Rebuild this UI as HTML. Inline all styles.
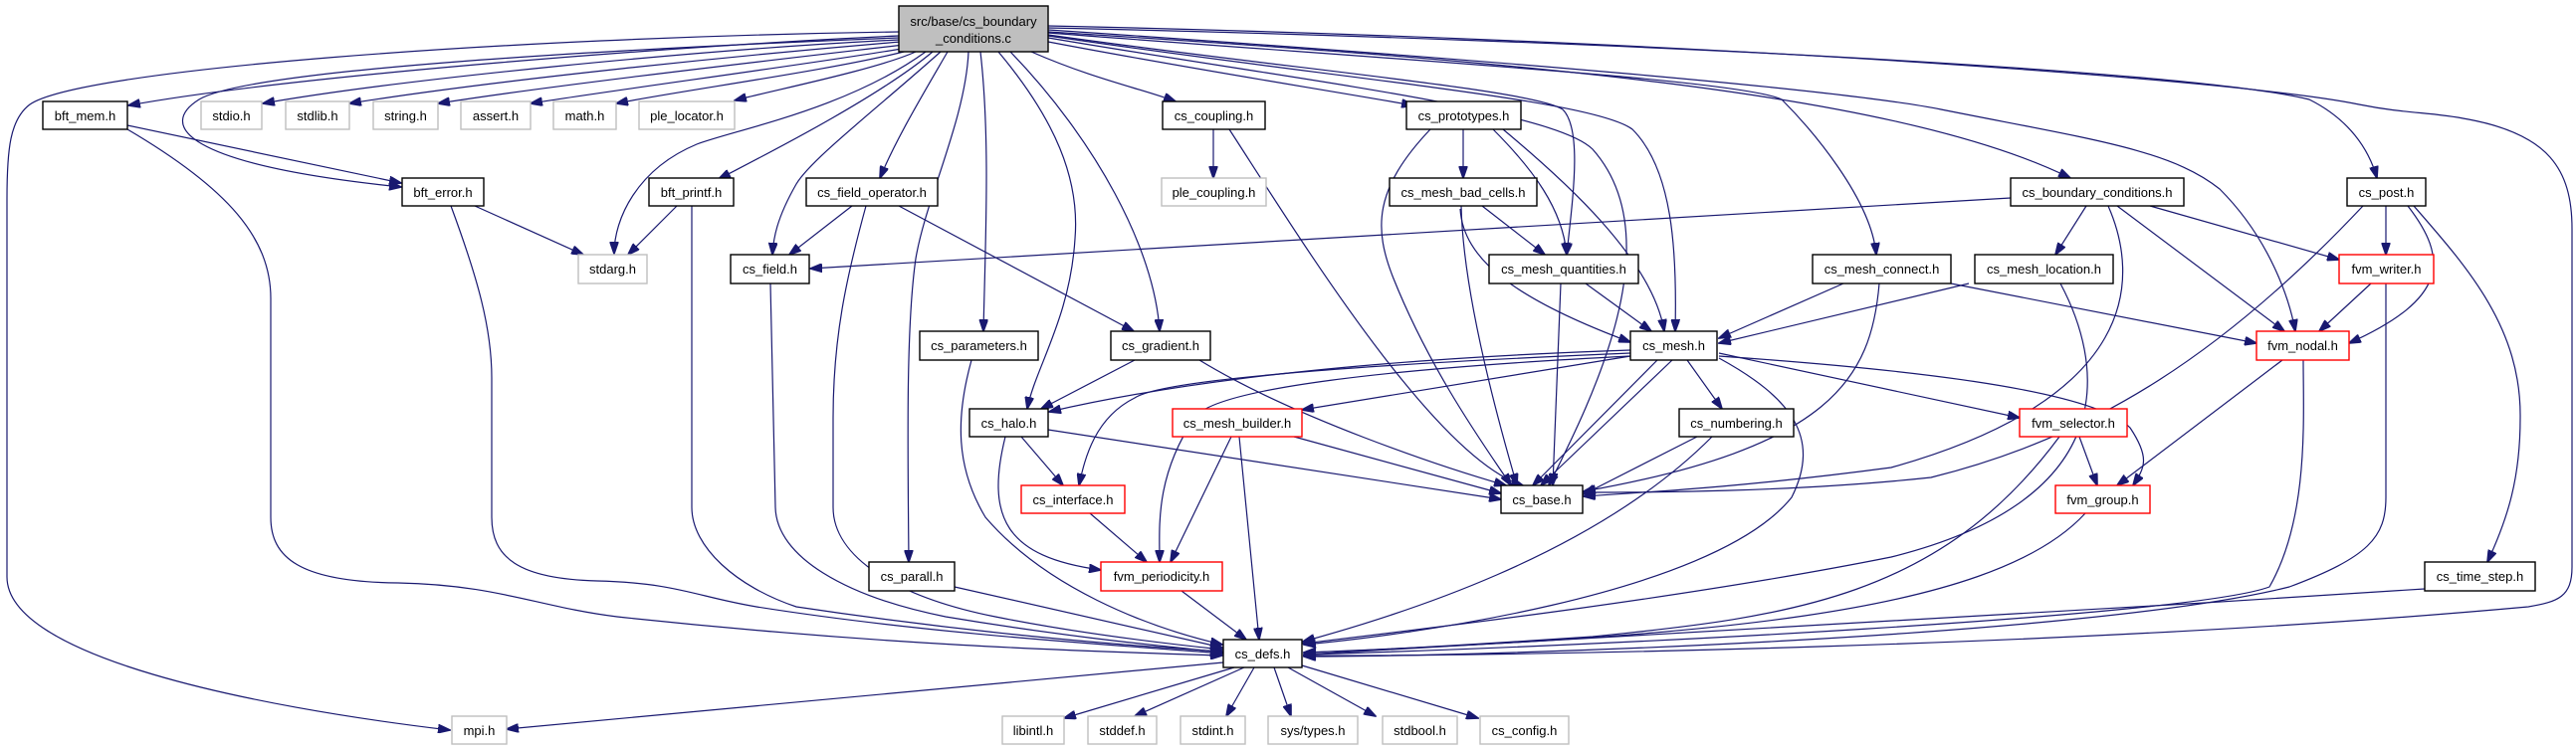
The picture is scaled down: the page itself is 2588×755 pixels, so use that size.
<!DOCTYPE html>
<html><head><meta charset="utf-8"><style>
html,body{margin:0;padding:0;background:#fff;}
svg{display:block;}
text{font-family:"Liberation Sans",Arial,sans-serif;font-size:13px;fill:#000;text-anchor:middle;}
.e{fill:none;stroke:#191970;stroke-width:1.2;marker-end:url(#a);}
.n{fill:#fff;stroke:#000;stroke-width:1.4;}
.g{fill:#fff;stroke:#bfbfbf;stroke-width:1.4;}
.r{fill:#fff;stroke:#ff0000;stroke-width:1.4;}
.rt{fill:#bfbfbf;stroke:#000;stroke-width:1.4;}
</style></head><body>
<svg width="2588" height="755" viewBox="0 0 2588 755" xmlns="http://www.w3.org/2000/svg">
<defs><marker id="a" markerWidth="13" markerHeight="9" refX="12" refY="4.5" orient="auto" markerUnits="userSpaceOnUse"><path d="M0,0 L13,4.5 L0,9 z" fill="#191970" stroke="#191970"/></marker></defs>
<g>
<path class="e" d="M903,32 C500,38 80,70 30,105 C10,120 7,150 7,200 L7,580 C7,660 250,710 452,734"/>
<path class="e" d="M903,36 C700,45 300,75 129,106"/>
<path class="e" d="M903,38 C600,50 250,70 200,100 C160,125 180,165 403,188"/>
<path class="e" d="M903,40 C700,50 400,80 264,104"/>
<path class="e" d="M905,42 C750,55 500,80 351,104"/>
<path class="e" d="M908,45 C780,60 560,85 440,104"/>
<path class="e" d="M912,48 C810,65 620,90 533,104"/>
<path class="e" d="M916,50 C840,70 690,90 619,104"/>
<path class="e" d="M920,52 C880,70 780,90 738,101"/>
<path class="e" d="M930,52 C850,110 740,130 700,145 C640,170 617,220 617,255"/>
<path class="e" d="M937,52 C880,100 760,160 722,180"/>
<path class="e" d="M945,52 C880,110 815,160 800,185 C780,220 777,240 776,256"/>
<path class="e" d="M952,52 C930,90 900,140 884,179"/>
<path class="e" d="M973,52 C970,120 930,200 920,260 C910,330 912,450 913,565"/>
<path class="e" d="M985,52 C995,140 990,240 988,333"/>
<path class="e" d="M1003,52 C1060,120 1085,180 1080,240 C1075,320 1040,370 1032,411"/>
<path class="e" d="M1015,52 C1100,140 1160,250 1165,333"/>
<path class="e" d="M1036,52 C1100,80 1150,90 1181,102"/>
<path class="e" d="M1053,42 C1200,70 1330,90 1420,106"/>
<path class="e" d="M1053,35 C1300,70 1540,90 1570,110 C1590,130 1580,200 1574,256"/>
<path class="e" d="M1053,36 C1350,80 1600,100 1640,130 C1680,170 1685,250 1683,333"/>
<path class="e" d="M1053,38 C1300,80 1560,110 1600,150 C1680,240 1600,400 1556,488"/>
<path class="e" d="M1053,33 C1400,60 1750,80 1790,100 C1820,130 1880,200 1885,256"/>
<path class="e" d="M1053,32 C1500,60 1900,90 2080,179"/>
<path class="e" d="M1053,30 C1500,60 1850,90 1950,110 C2100,140 2180,150 2230,190 C2280,240 2300,300 2306,333"/>
<path class="e" d="M1053,28 C1600,40 2200,70 2320,100 C2360,120 2380,150 2388,179"/>
<path class="e" d="M1053,26 C1700,40 2250,80 2370,105 C2420,115 2440,112 2480,120 C2560,135 2584,170 2584,230 L2584,570 C2584,600 2570,605 2540,610 C2100,650 1500,660 1310,659"/>
<path class="e" d="M128,126 L403,184"/>
<path class="e" d="M128,130 C230,190 272,240 272,300 L272,520 C272,560 300,585 400,586 C500,588 540,610 620,620 C900,650 1100,655 1228,659"/>
<path class="e" d="M477,207 L586,256"/>
<path class="e" d="M453,207 C480,280 494,330 494,380 L494,520 C494,560 520,582 600,584 C680,586 700,600 760,610 C950,640 1150,650 1228,657"/>
<path class="e" d="M680,207 L631,256"/>
<path class="e" d="M695,207 L695,510 C695,550 740,590 800,610 C1000,640 1150,650 1228,655"/>
<path class="e" d="M856,207 L793,256"/>
<path class="e" d="M870,207 C850,280 837,340 837,420 L837,510 C837,560 900,600 1000,620 C1100,640 1200,650 1228,653"/>
<path class="e" d="M903,207 L1139,333"/>
<path class="e" d="M774,285 L779,510 C780,560 850,600 950,620 C1100,645 1200,652 1228,656"/>
<path class="e" d="M2020,199 L814,270"/>
<path class="e" d="M1219,130 L1219,179"/>
<path class="e" d="M1235,130 C1300,230 1440,460 1530,488"/>
<path class="e" d="M1470,130 L1470,179"/>
<path class="e" d="M1437,130 C1380,190 1380,230 1400,280 C1440,380 1500,460 1518,488"/>
<path class="e" d="M1500,130 C1540,170 1570,210 1574,256"/>
<path class="e" d="M1510,130 C1570,180 1660,260 1672,333"/>
<path class="e" d="M1489,207 L1552,256"/>
<path class="e" d="M1468,207 C1470,300 1510,440 1524,488"/>
<path class="e" d="M1467,210 C1470,260 1520,300 1638,344"/>
<path class="e" d="M1593,285 L1659,333"/>
<path class="e" d="M1568,285 L1560,488"/>
<path class="e" d="M1140,362 L1046,411"/>
<path class="e" d="M1205,362 C1300,420 1450,470 1513,488"/>
<path class="e" d="M976,362 C960,420 960,470 990,520 C1050,590 1150,630 1228,648"/>
<path class="e" d="M1638,352 C1400,360 1200,380 1054,414"/>
<path class="e" d="M1638,355 C1400,365 1170,380 1140,400 C1100,420 1090,460 1084,488"/>
<path class="e" d="M1638,358 C1400,370 1220,390 1200,420 C1160,480 1165,530 1165,565"/>
<path class="e" d="M1638,358 L1308,412"/>
<path class="e" d="M1665,362 L1540,488"/>
<path class="e" d="M1680,362 L1548,488"/>
<path class="e" d="M1695,362 L1730,411"/>
<path class="e" d="M1727,355 L2029,420"/>
<path class="e" d="M1727,358 C1900,370 2100,390 2140,430 C2160,460 2155,470 2143,488"/>
<path class="e" d="M1727,360 C1800,400 1830,440 1800,500 C1720,600 1400,640 1310,648"/>
<path class="e" d="M1026,439 L1068,488"/>
<path class="e" d="M1053,432 L1508,502"/>
<path class="e" d="M1010,439 C990,520 1010,560 1106,573"/>
<path class="e" d="M1237,439 L1176,565"/>
<path class="e" d="M1300,439 L1508,496"/>
<path class="e" d="M1245,439 L1265,643"/>
<path class="e" d="M1095,516 L1152,565"/>
<path class="e" d="M1187,594 L1252,643"/>
<path class="e" d="M959,590 L1228,651"/>
<path class="e" d="M1705,439 L1591,497"/>
<path class="e" d="M1720,439 C1600,560 1400,620 1309,645"/>
<path class="e" d="M1852,285 L1727,340"/>
<path class="e" d="M1888,285 C1880,380 1840,450 1591,494"/>
<path class="e" d="M1960,285 L2267,345"/>
<path class="e" d="M1978,285 L1727,345"/>
<path class="e" d="M2070,285 C2110,360 2140,500 1900,560 C1700,600 1450,630 1309,647"/>
<path class="e" d="M2096,207 L2065,256"/>
<path class="e" d="M2160,207 L2350,261"/>
<path class="e" d="M2127,207 L2295,333"/>
<path class="e" d="M2118,207 C2150,280 2150,400 1900,470 C1750,490 1650,495 1591,499"/>
<path class="e" d="M2397,207 L2397,256"/>
<path class="e" d="M2419,207 C2460,260 2460,300 2360,345"/>
<path class="e" d="M2374,207 C2230,360 2100,440 1940,480 C1800,495 1650,495 1591,495"/>
<path class="e" d="M2425,207 C2480,270 2533,330 2532,420 C2532,480 2520,520 2499,565"/>
<path class="e" d="M2382,285 L2330,333"/>
<path class="e" d="M2397,285 L2397,500 C2397,540 2380,560 2300,590 C2100,640 1500,660 1310,660"/>
<path class="e" d="M2293,362 L2127,488"/>
<path class="e" d="M2314,362 C2314,420 2320,520 2280,590 C2200,620 1600,650 1310,658"/>
<path class="e" d="M2089,439 L2107,488"/>
<path class="e" d="M2069,439 C1950,600 1800,620 1600,640 C1450,650 1350,655 1310,656"/>
<path class="e" d="M2095,516 C2000,620 1700,640 1310,656"/>
<path class="e" d="M2436,592 C2000,620 1500,650 1310,658"/>
<path class="e" d="M1229,666 L509,733"/>
<path class="e" d="M1240,671 L1069,722"/>
<path class="e" d="M1250,671 L1140,720"/>
<path class="e" d="M1260,671 L1232,720"/>
<path class="e" d="M1280,671 L1297,720"/>
<path class="e" d="M1294,671 L1382,720"/>
<path class="e" d="M1308,669 L1485,722"/>
</g>
<g>
<rect class="rt" x="903" y="6" width="150" height="46"/><text x="978" y="26">src/base/cs_boundary</text><text x="978" y="43">_conditions.c</text>
<rect class="n" x="43" y="102" width="85" height="28"/><text x="85.5" y="121">bft_mem.h</text>
<rect class="g" x="202" y="102" width="61" height="28"/><text x="232.5" y="121">stdio.h</text>
<rect class="g" x="287" y="102" width="64" height="28"/><text x="319" y="121">stdlib.h</text>
<rect class="g" x="375" y="102" width="65" height="28"/><text x="407.5" y="121">string.h</text>
<rect class="g" x="463" y="102" width="70" height="28"/><text x="498" y="121">assert.h</text>
<rect class="g" x="556" y="102" width="63" height="28"/><text x="587.5" y="121">math.h</text>
<rect class="g" x="642" y="102" width="96" height="28"/><text x="690" y="121">ple_locator.h</text>
<rect class="n" x="1168" y="102" width="103" height="28"/><text x="1219.5" y="121">cs_coupling.h</text>
<rect class="n" x="1413" y="102" width="115" height="28"/><text x="1470.5" y="121">cs_prototypes.h</text>
<rect class="n" x="404" y="179" width="82" height="28"/><text x="445" y="198">bft_error.h</text>
<rect class="n" x="652" y="179" width="85" height="28"/><text x="694.5" y="198">bft_printf.h</text>
<rect class="n" x="810" y="179" width="132" height="28"/><text x="876" y="198">cs_field_operator.h</text>
<rect class="g" x="1167" y="179" width="105" height="28"/><text x="1219.5" y="198">ple_coupling.h</text>
<rect class="n" x="1396" y="179" width="148" height="28"/><text x="1470" y="198">cs_mesh_bad_cells.h</text>
<rect class="n" x="2020" y="179" width="174" height="28"/><text x="2107" y="198">cs_boundary_conditions.h</text>
<rect class="n" x="2358" y="179" width="79" height="28"/><text x="2397.5" y="198">cs_post.h</text>
<rect class="g" x="581" y="256" width="69" height="29"/><text x="615.5" y="275">stdarg.h</text>
<rect class="n" x="734" y="256" width="79" height="29"/><text x="773.5" y="275">cs_field.h</text>
<rect class="n" x="1496" y="256" width="150" height="29"/><text x="1571" y="275">cs_mesh_quantities.h</text>
<rect class="n" x="1821" y="256" width="139" height="29"/><text x="1890.5" y="275">cs_mesh_connect.h</text>
<rect class="n" x="1984" y="256" width="139" height="29"/><text x="2053.5" y="275">cs_mesh_location.h</text>
<rect class="r" x="2350" y="256" width="95" height="29"/><text x="2397.5" y="275">fvm_writer.h</text>
<rect class="n" x="924" y="333" width="119" height="29"/><text x="983.5" y="352">cs_parameters.h</text>
<rect class="n" x="1116" y="333" width="100" height="29"/><text x="1166" y="352">cs_gradient.h</text>
<rect class="n" x="1638" y="333" width="87" height="29"/><text x="1681.5" y="352">cs_mesh.h</text>
<rect class="r" x="2267" y="333" width="93" height="29"/><text x="2313.5" y="352">fvm_nodal.h</text>
<rect class="n" x="974" y="411" width="79" height="28"/><text x="1013.5" y="430">cs_halo.h</text>
<rect class="r" x="1178" y="411" width="130" height="28"/><text x="1243" y="430">cs_mesh_builder.h</text>
<rect class="n" x="1687" y="411" width="115" height="28"/><text x="1744.5" y="430">cs_numbering.h</text>
<rect class="r" x="2029" y="411" width="108" height="28"/><text x="2083" y="430">fvm_selector.h</text>
<rect class="r" x="1026" y="488" width="104" height="28"/><text x="1078" y="507">cs_interface.h</text>
<rect class="n" x="1508" y="488" width="82" height="28"/><text x="1549" y="507">cs_base.h</text>
<rect class="r" x="2065" y="488" width="95" height="28"/><text x="2112.5" y="507">fvm_group.h</text>
<rect class="n" x="873" y="565" width="86" height="29"/><text x="916" y="584">cs_parall.h</text>
<rect class="r" x="1106" y="565" width="122" height="29"/><text x="1167" y="584">fvm_periodicity.h</text>
<rect class="n" x="2436" y="565" width="111" height="29"/><text x="2491.5" y="584">cs_time_step.h</text>
<rect class="n" x="1229" y="643" width="79" height="28"/><text x="1268.5" y="662">cs_defs.h</text>
<rect class="g" x="454" y="720" width="55" height="28"/><text x="481.5" y="739">mpi.h</text>
<rect class="g" x="1007" y="720" width="62" height="28"/><text x="1038" y="739">libintl.h</text>
<rect class="g" x="1093" y="720" width="69" height="28"/><text x="1127.5" y="739">stddef.h</text>
<rect class="g" x="1186" y="720" width="65" height="28"/><text x="1218.5" y="739">stdint.h</text>
<rect class="g" x="1274" y="720" width="90" height="28"/><text x="1319" y="739">sys/types.h</text>
<rect class="g" x="1389" y="720" width="75" height="28"/><text x="1426.5" y="739">stdbool.h</text>
<rect class="g" x="1487" y="720" width="89" height="28"/><text x="1531.5" y="739">cs_config.h</text>
</g>
</svg>
</body></html>
